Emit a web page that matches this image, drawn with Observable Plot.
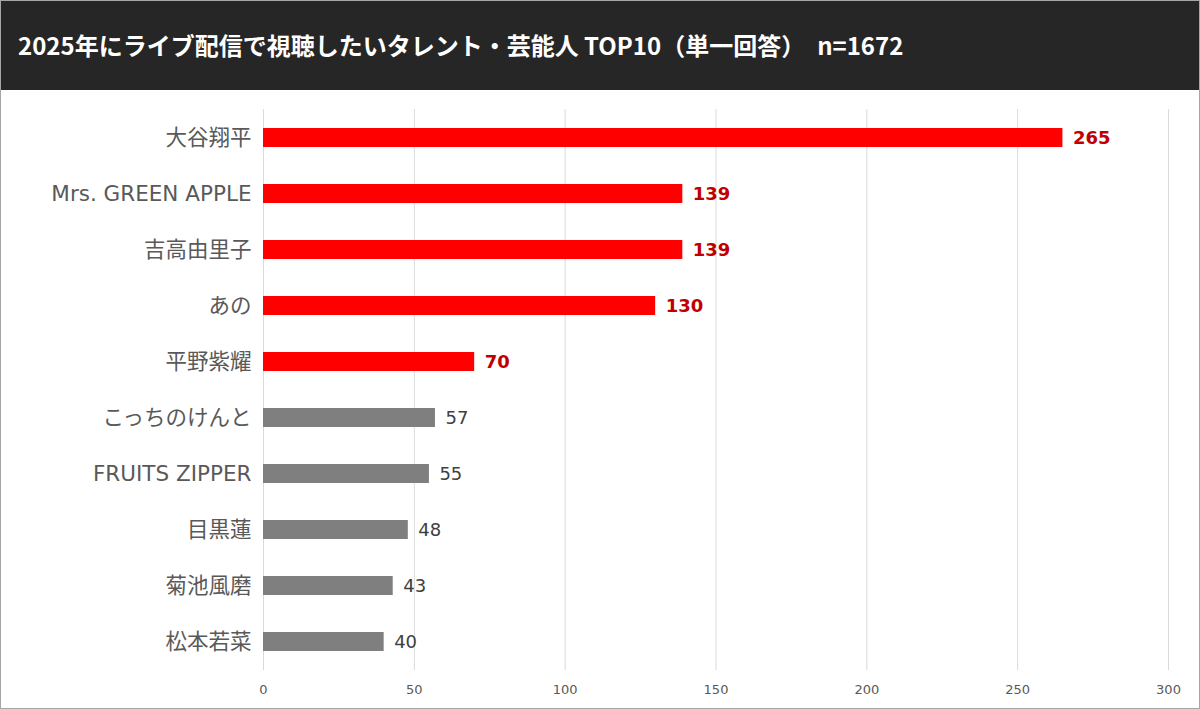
<!DOCTYPE html>
<html>
<head>
<meta charset="utf-8">
<script src="https://cdn.jsdelivr.net/npm/d3@7"></script>
<script src="https://cdn.jsdelivr.net/npm/@observablehq/plot@0.6"></script>
<style>
  html, body { margin: 0; padding: 0; background: #fff; }
  #wrap { width: 1200px; height: 709px; box-sizing: border-box; border: 1px solid #a6a6a6; overflow: hidden; font-family: "DejaVu Sans", "Noto Sans CJK JP", sans-serif; }
  #title { height: 89px; background: #262626; color: #fff; font-family: "Noto Sans CJK JP", sans-serif; font-weight: bold; font-size: 24px; line-height: 88px; padding-left: 17px; white-space: pre; }
  svg { display: block; }
</style>
</head>
<body>
<div id="wrap">
  <div id="title">2025年にライブ配信で視聴したいタレント・芸能人 TOP10（単一回答）　n=1672</div>
  <div id="chart"></div>
</div>
<script>
const names = ["大谷翔平", "Mrs. GREEN APPLE", "吉高由里子", "あの", "平野紫耀", "こっちのけんと", "FRUITS ZIPPER", "目黒蓮", "菊池風磨", "松本若菜"];
const values = [265, 139, 139, 130, 70, 57, 55, 48, 43, 40];
const highlighted = [true, true, true, true, true, false, false, false, false, false];
const xTicks = [0, 50, 100, 150, 200, 250, 300];

const data = names.map((name, i) => ({name, value: values[i], hi: highlighted[i]}));
const hi = data.filter(d => d.hi);
const lo = data.filter(d => !d.hi);

const chart = Plot.plot({
  width: 1198,
  height: 618,
  marginTop: 19,
  marginBottom: 38,
  marginLeft: 262,
  marginRight: 31,
  style: {fontFamily: '"DejaVu Sans", "Noto Sans CJK JP", sans-serif', background: "#fff"},
  x: {domain: [0, 300], ticks: xTicks},
  y: {domain: names, paddingInner: 0.66, paddingOuter: 0.33, align: 0.5},
  marks: [
    Plot.gridX(xTicks, {stroke: "#d9d9d9", strokeOpacity: 1}),
    Plot.axisX({ticks: xTicks, tickSize: 0, tickPadding: 14, fontSize: 13, fill: "#595959", label: null, tickFormat: d => String(d)}),
    Plot.axisY({tickSize: 0, tickPadding: 12, fontSize: 21.5, fill: "#595959", label: null}),
    Plot.barX(hi, {x: "value", y: "name", fill: "#ff0000"}),
    Plot.barX(lo, {x: "value", y: "name", fill: "#7f7f7f"}),
    Plot.text(hi, {x: "value", y: "name", text: d => String(d.value), dx: 10, textAnchor: "start", fill: "#c00000", fontWeight: "bold", fontSize: 18}),
    Plot.text(lo, {x: "value", y: "name", text: d => String(d.value), dx: 10, textAnchor: "start", fill: "#404040", fontSize: 18})
  ]
});
document.getElementById("chart").appendChild(chart);
</script>
</body>
</html>
